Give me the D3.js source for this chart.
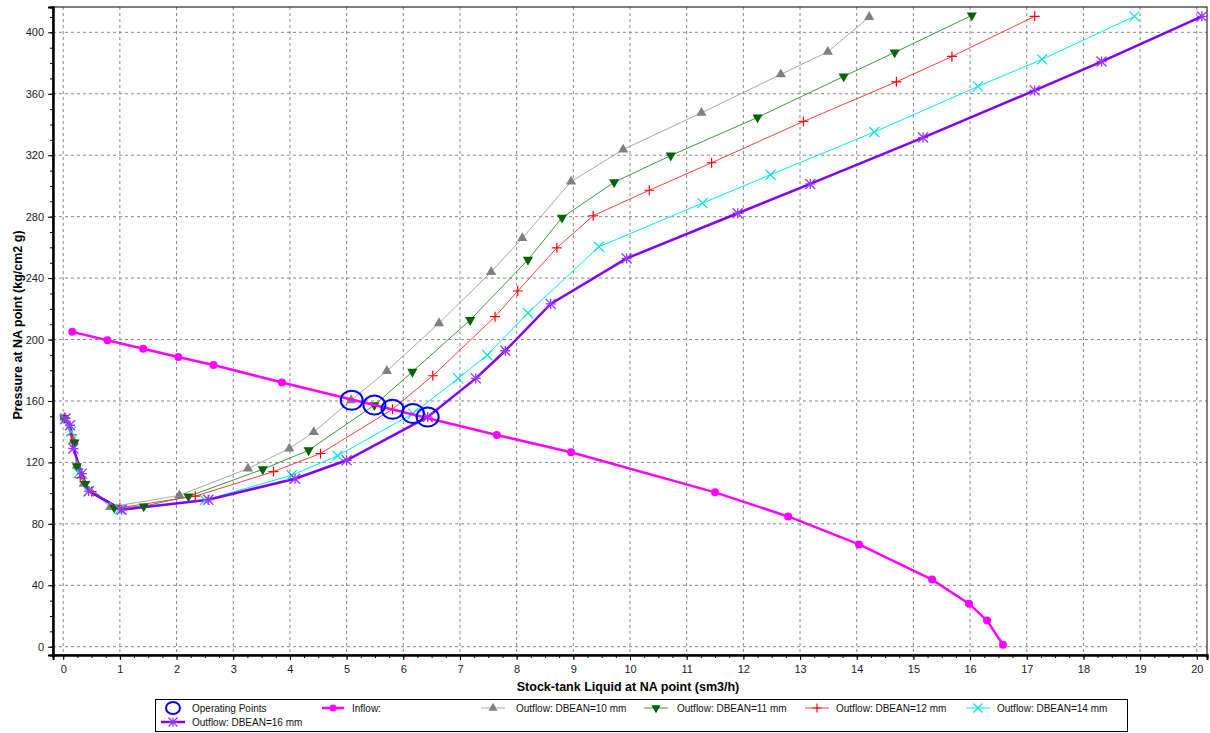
<!DOCTYPE html>
<html>
<head>
<meta charset="utf-8">
<script src="https://cdn.jsdelivr.net/npm/d3@7"></script>
<style>
  body { margin: 0; background: #fff; }
  svg { display: block; font-family: "Liberation Sans", Arial, sans-serif; }
</style>
</head>
<body>
<script>
'use strict';

// inflow (IPR) curve
const inflow = [[0.16,205],[0.78,199.5],[1.41,194],[2.03,188.6],[2.65,183.4],[3.86,172],
  [7.65,137.8],[8.96,126.6],[11.5,100.5],[12.79,84.8],[14.04,66.6],[15.33,43.7],
  [15.98,28],[16.3,17],[16.58,1.3]];

// outflow curves for each bean size
const out10 = [[0.02,149],[0.18,134],[0.24,118],[0.36,106],[0.83,91],[2.05,98.5],[3.26,116],
  [3.99,129],[4.42,139.7],[5.08,160.5],[5.71,179.5],[6.63,210.6],[7.55,244],[8.1,266],
  [8.96,302.8],[9.88,323.7],[11.26,347.6],[12.66,372.6],[13.49,387.3],[14.22,410]];
const out11 = [[0.02,149],[0.2,133],[0.24,117.6],[0.39,106],[0.9,90.5],[1.42,91.4],[2.21,97.9],
  [3.52,115.5],[4.33,127.9],[5.49,157.3],[6.16,179],[7.18,212.7],[8.2,251.9],[8.8,279.3],
  [9.72,302.4],[10.72,319.8],[12.25,344.6],[13.77,371.3],[14.67,386.9],[16.03,411]];
const out12 = [[0.03,149],[0.15,138],[0.3,110],[0.5,101],[1.0,90.5],[2.33,98],[3.71,114],
  [4.54,125.8],[5.81,154.6],[6.52,176.4],[7.62,214.9],[8.02,231.6],[8.71,259.7],[9.35,280.6],
  [10.34,297.2],[11.44,315.1],[13.06,342],[14.7,367.8],[15.68,384.3],[17.14,410.4]];
const out14 = [[0.03,148],[0.14,140],[0.27,113],[0.45,101],[1.0,89.5],[2.5,95.5],[4.03,111.6],
  [4.84,124.3],[6.17,151.8],[6.97,174.7],[7.48,189.9],[8.2,217.3],[9.45,260.4],[11.28,288.8],
  [12.48,307.3],[14.31,335.1],[16.14,364.8],[17.27,382.4],[18.9,410.4]];
const out16 = [[0.04,148.6],[0.12,144.2],[0.18,129],[0.33,112.7],[0.45,101.3],[1.03,89.2],
  [2.56,95.7],[4.09,109.4],[5.0,121.4],[6.43,149.6],[7.28,174.7],[7.8,192.7],[8.6,223.2],
  [9.94,252.8],[11.9,282.2],[13.18,301.3],[15.17,331.5],[17.14,362.2],[18.32,381],[20.09,410.4]];

// intersections of inflow and outflow
const operatingPoints = [[5.09,160.5],[5.49,157.3],[5.81,154.6],[6.17,151.8],[6.43,149.6]];

const xTicks = d3.range(0, 21, 1);
const yTicks = d3.range(0, 401, 40);

const xTitle = "Stock-tank Liquid at NA point (sm3/h)";
const yTitle = "Pressure at NA point (kg/cm2 g)";

const series = [
  { name: "Outflow: DBEAN=10 mm", data: out10, line: "#a8a8a8", mark: "#808080", width: 1, sym: "up" },
  { name: "Outflow: DBEAN=11 mm", data: out11, line: "#3c9a3c", mark: "#006400", width: 1, sym: "down" },
  { name: "Outflow: DBEAN=12 mm", data: out12, line: "#ff4040", mark: "#ff0000", width: 1, sym: "plus" },
  { name: "Outflow: DBEAN=14 mm", data: out14, line: "#00f0f0", mark: "#00e0e0", width: 1, sym: "cross" },
  { name: "Outflow: DBEAN=16 mm", data: out16, line: "#8000ff", mark: "#9933ff", width: 2.5, sym: "star" }
];

const W = 1210, H = 733;
const svg = d3.select("body").append("svg").attr("width", W).attr("height", H);

const x = d3.scaleLinear().domain([-0.18, 20.18]).range([53, 1207]);
const y = d3.scaleLinear().domain([-5.4, 416.5]).range([655, 7]);

// grid
svg.append("g").selectAll("line").data(xTicks).join("line")
  .attr("x1", d => x(d)).attr("x2", d => x(d)).attr("y1", 7).attr("y2", 655)
  .attr("stroke", "#888").attr("stroke-dasharray", "3,3");
svg.append("g").selectAll("line").data(yTicks).join("line")
  .attr("x1", 53).attr("x2", 1207).attr("y1", d => y(d)).attr("y2", d => y(d))
  .attr("stroke", "#888").attr("stroke-dasharray", "3,3");

// frame
svg.append("rect").attr("x", 53).attr("y", 7).attr("width", 1154).attr("height", 648)
  .attr("fill", "none").attr("stroke", "#000").attr("stroke-width", 1);

// axes
svg.append("g").attr("transform", "translate(0,655)")
  .call(d3.axisBottom(x).tickValues(xTicks).tickSize(5).tickPadding(5).tickFormat(d3.format("d")));
svg.append("g").attr("transform", "translate(0,655)")
  .call(d3.axisBottom(x).tickValues(d3.range(0, 20.01, 0.25)).tickSize(3).tickFormat(""));
svg.append("g").attr("transform", "translate(53,0)")
  .call(d3.axisLeft(y).tickValues(yTicks).tickSize(5).tickPadding(4).tickFormat(d3.format("d")));
svg.append("g").attr("transform", "translate(53,0)")
  .call(d3.axisLeft(y).tickValues(d3.range(0, 411, 10)).tickSize(3).tickFormat(""));
svg.selectAll(".domain").attr("stroke-width", 2);
svg.selectAll(".tick text").style("font-size", "11px").attr("fill", "#222");

// axis titles
svg.append("text").attr("x", 628).attr("y", 691).attr("text-anchor", "middle")
  .style("font-size", "12.5px").style("font-weight", "bold").text(xTitle);
svg.append("text").attr("transform", "translate(22,325)rotate(-90)").attr("text-anchor", "middle")
  .style("font-size", "12.5px").style("font-weight", "bold").text(yTitle);

// marker drawing
function marker(g, sym, color, s) {
  if (sym === "up") {
    g.append("path").attr("d", d3.symbol(d3.symbolTriangle, s * s * 0.45)()).attr("fill", color);
  } else if (sym === "down") {
    g.append("path").attr("d", d3.symbol(d3.symbolTriangle, s * s * 0.45)())
      .attr("transform", "rotate(180)").attr("fill", color);
  } else if (sym === "plus") {
    g.append("path").attr("d", `M${-s/2},0H${s/2}M0,${-s/2}V${s/2}`).attr("stroke", color).attr("stroke-width", 1.2);
  } else if (sym === "cross") {
    g.append("path").attr("d", `M${-s/2},${-s/2}L${s/2},${s/2}M${-s/2},${s/2}L${s/2},${-s/2}`)
      .attr("stroke", color).attr("stroke-width", 1.2);
  } else if (sym === "star") {
    g.append("path").attr("d", `M${-s/2},0H${s/2}M${-s/2},${-s/2}L${s/2},${s/2}M${-s/2},${s/2}L${s/2},${-s/2}M0,${-s/2}V${s/2}`)
      .attr("stroke", color).attr("stroke-width", 1.3);
  } else if (sym === "dot") {
    g.append("circle").attr("r", s / 2).attr("fill", color);
  }
}

const line = d3.line().x(d => x(d[0])).y(d => y(d[1]));
const plot = svg.append("g");

series.forEach(s => {
  plot.append("path").datum(s.data).attr("d", line)
    .attr("fill", "none").attr("stroke", s.line).attr("stroke-width", s.width);
});
series.forEach(s => {
  s.data.forEach(d => {
    marker(plot.append("g").attr("transform", `translate(${x(d[0])},${y(d[1])})`), s.sym, s.mark, 10);
  });
});

// inflow
plot.append("path").datum(inflow).attr("d", line)
  .attr("fill", "none").attr("stroke", "#ff00ff").attr("stroke-width", 2.5);
inflow.forEach(d => {
  marker(plot.append("g").attr("transform", `translate(${x(d[0])},${y(d[1])})`), "dot", "#ff00ff", 8);
});

// operating points
plot.selectAll(".op").data(operatingPoints).join("ellipse")
  .attr("cx", d => x(d[0])).attr("cy", d => y(d[1]))
  .attr("rx", 11).attr("ry", 9.5)
  .attr("fill", "none").attr("stroke", "#0000ff").attr("stroke-width", 2);

// legend
svg.append("rect").attr("x", 155.5).attr("y", 699.5).attr("width", 972).attr("height", 32)
  .attr("fill", "#fff").attr("stroke", "#000");
const legendItems = [
  { name: "Operating Points", kind: "op", lx: 162, tx: 192, ty: 708 },
  { name: "Inflow:", kind: "inflow", lx: 322, tx: 352, ty: 708 },
  { name: series[0].name, s: series[0], lx: 481, tx: 516, ty: 708 },
  { name: series[1].name, s: series[1], lx: 644, tx: 677, ty: 708 },
  { name: series[2].name, s: series[2], lx: 805, tx: 836, ty: 708 },
  { name: series[3].name, s: series[3], lx: 966, tx: 997, ty: 708 },
  { name: series[4].name, s: series[4], lx: 161, tx: 192, ty: 722 }
];
legendItems.forEach(it => {
  const g = svg.append("g");
  if (it.kind === "op") {
    g.append("ellipse").attr("cx", it.lx + 11).attr("cy", it.ty).attr("rx", 7).attr("ry", 6)
      .attr("fill", "none").attr("stroke", "#0000ff").attr("stroke-width", 2);
  } else if (it.kind === "inflow") {
    g.append("line").attr("x1", it.lx).attr("x2", it.lx + 22).attr("y1", it.ty).attr("y2", it.ty)
      .attr("stroke", "#ff00ff").attr("stroke-width", 2.5);
    marker(g.append("g").attr("transform", `translate(${it.lx + 11},${it.ty})`), "dot", "#ff00ff", 7);
  } else {
    g.append("line").attr("x1", it.lx).attr("x2", it.lx + 24).attr("y1", it.ty).attr("y2", it.ty)
      .attr("stroke", it.s.line).attr("stroke-width", it.s.width);
    marker(g.append("g").attr("transform", `translate(${it.lx + 12},${it.ty})`), it.s.sym, it.s.mark, 9);
  }
  g.append("text").attr("x", it.tx).attr("y", it.ty + 3.5).style("font-size", "10px")
    .attr("fill", "#111").text(it.name);
});
</script>
</body>
</html>
